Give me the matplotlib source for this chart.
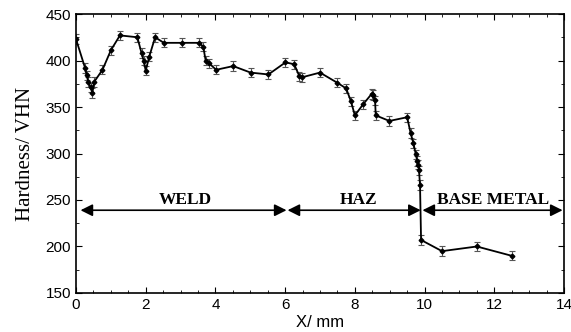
import numpy as np
import matplotlib
matplotlib.use("Agg")
import matplotlib.pyplot as plt

# hardness traverse
x = [0.0, 0.26, 0.31, 0.35, 0.42, 0.47, 0.52, 0.76, 1.0, 1.26, 1.76, 1.88, 1.94,
     2.0, 2.1, 2.27, 2.52, 3.03, 3.53, 3.65, 3.72, 3.82, 4.02, 4.51, 5.01, 5.52,
     6.01, 6.26, 6.41, 6.49, 7.0, 7.5, 7.75, 7.89, 8.0, 8.24, 8.48, 8.52, 8.58,
     8.6, 8.99, 9.5, 9.6, 9.68, 9.75, 9.79, 9.82, 9.84, 9.87, 9.9]
hv = [423, 392, 384, 377, 371, 365, 377, 390, 411, 427, 425, 408, 400,
      389, 404, 425, 419, 419, 419, 415, 400, 397, 390, 394, 387, 385,
      398, 396, 383, 382, 387, 376, 370, 356, 341, 353, 364, 363, 357,
      341, 335, 339, 322, 311, 299, 292, 288, 282, 266, 207]
x_base = [10.5, 11.5, 12.5]
hv_base = [195, 200, 190]
err = 5

zones = [("WELD", 0.13, 6.04, 3.15), ("HAZ", 6.07, 9.89, 8.1),
         ("BASE METAL", 9.94, 13.96, 11.97)]
arrow_y = 239

fig = plt.figure(figsize=(5.71, 3.32), dpi=100)
ax = fig.add_axes([0.1331, 0.1175, 0.8546, 0.8403])

xs = x + x_base
ys = hv + hv_base
ax.errorbar(xs, ys, yerr=err, color="black", lw=1.3, marker="D", ms=2.4,
            ecolor="#555555", elinewidth=0.8, capsize=2.2, capthick=0.8)

for name, a, b, c in zones:
    ax.annotate("", xy=(a, arrow_y), xytext=(b, arrow_y),
                arrowprops=dict(arrowstyle="<|-|>,head_length=0.6,head_width=0.3",
                                color="black", lw=1.2,
                                mutation_scale=12, shrinkA=0, shrinkB=0))
    ax.text(c, arrow_y + 2, name, ha="center", va="bottom", fontsize=12.5,
            fontweight="bold", family="Liberation Serif")

ax.set_xlim(0, 14)
ax.set_ylim(150, 450)
ax.set_xticks(np.arange(0, 15, 2))
ax.set_xticks(np.arange(0, 14.1, 0.5), minor=True)
ax.set_yticks(np.arange(150, 451, 50))
ax.set_yticks(np.arange(150, 451, 25), minor=True)
ax.tick_params(which="both", direction="in", top=True, right=True)
ax.tick_params(which="major", length=4, labelsize=11)
ax.tick_params(which="minor", length=2)
for lab in ax.get_xticklabels() + ax.get_yticklabels():
    lab.set_family("Liberation Sans")
for s in ax.spines.values():
    s.set_linewidth(1.2)

ax.set_ylabel("Hardness/ VHN", family="Liberation Serif", fontsize=15, labelpad=8)
fig.text(0.56, 0.005, "X/ mm", family="Liberation Sans", fontsize=12,
         ha="center", va="bottom")

fig.savefig("out.png", dpi=100)
